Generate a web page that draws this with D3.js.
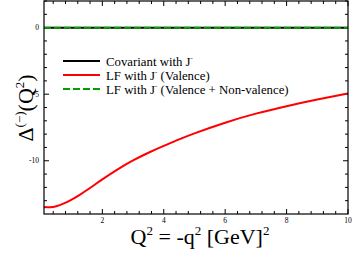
<!DOCTYPE html>
<html>
<head>
<meta charset="utf-8">
<script src="https://cdn.jsdelivr.net/npm/d3@7"></script>
<style>
  body { margin: 0; background: #fff; }
</style>
</head>
<body>
<div id="chart"></div>
<script>
// values
const q2 = [0.1, 0.3, 0.5, 0.75, 1, 1.25, 1.5, 1.75, 2, 2.5, 3, 3.5, 4, 4.5, 5, 6, 7, 8, 9, 10];
const lfValence = [-13.48, -13.5, -13.42, -13.2, -12.92, -12.58, -12.2, -11.8, -11.4, -10.65, -9.98, -9.4, -8.88, -8.4, -7.94, -7.14, -6.46, -5.9, -5.4, -4.95];
const covariant = q2.map(() => 0);
const lfFull = q2.map(() => 0);
const xTicks = [2, 4, 6, 8, 10];
const yTicks = [0, -5, -10];

const W = 354, H = 255;
const margin = {top: 1, right: 6, bottom: 41, left: 44},
      width = W - margin.left - margin.right,
      height = H - margin.top - margin.bottom;

const svg = d3.select("#chart").append("svg")
    .attr("width", W).attr("height", H)
    .attr("font-family", "'Liberation Serif', 'DejaVu Serif', serif");
const g = svg.append("g").attr("transform", `translate(${margin.left},${margin.top})`);

const x = d3.scaleLinear().domain([0.1, 10]).range([0, width]);
const y = d3.scaleLinear().domain([-14, 2]).range([height, 0]);

// tick marks on all four sides, inward
const xMinor = d3.range(0.4, 10.01, 0.4).filter(v => !xTicks.some(t => Math.abs(t - v) < 1e-6));
const yMinor = d3.range(-13, 2.01, 1).filter(v => !yTicks.includes(v));

function ticksX(sel, y0, dir) {
  sel.selectAll(null).data(xTicks).enter().append("line")
    .attr("x1", d => x(d)).attr("x2", d => x(d))
    .attr("y1", y0).attr("y2", y0 + dir * 5).attr("stroke", "#000");
  sel.selectAll(null).data(xMinor).enter().append("line")
    .attr("x1", d => x(d)).attr("x2", d => x(d))
    .attr("y1", y0).attr("y2", y0 + dir * 3).attr("stroke", "#000");
}
function ticksY(sel, x0, dir) {
  sel.selectAll(null).data(yTicks).enter().append("line")
    .attr("y1", d => y(d)).attr("y2", d => y(d))
    .attr("x1", x0).attr("x2", x0 + dir * 5).attr("stroke", "#000");
  sel.selectAll(null).data(yMinor).enter().append("line")
    .attr("y1", d => y(d)).attr("y2", d => y(d))
    .attr("x1", x0).attr("x2", x0 + dir * 3).attr("stroke", "#000");
}
const tk = g.append("g");
ticksX(tk, height, -1);
ticksX(tk, 0, 1);
ticksY(tk, 0, 1);
ticksY(tk, width, -1);

// tick labels
g.selectAll(null).data(xTicks).enter().append("text")
  .attr("x", d => x(d)).attr("y", height + 9)
  .attr("text-anchor", "middle").attr("font-size", 7.5).text(d => d);
g.selectAll(null).data(yTicks).enter().append("text")
  .attr("x", -5).attr("y", d => y(d)).attr("dy", "0.35em")
  .attr("text-anchor", "end").attr("font-size", 7.5).text(d => d);

// lines
const line = d3.line().x((d, i) => x(q2[i])).y(d => y(d)).curve(d3.curveNatural);
g.append("path").datum(lfValence).attr("d", line)
  .attr("fill", "none").attr("stroke", "#ff0000").attr("stroke-width", 2);
g.append("path").datum(covariant).attr("d", line)
  .attr("fill", "none").attr("stroke", "#000").attr("stroke-width", 2);
g.append("path").datum(lfFull).attr("d", line)
  .attr("fill", "none").attr("stroke", "#00a000").attr("stroke-width", 2)
  .attr("stroke-dasharray", "7,3");

// frame
g.append("rect").attr("width", width).attr("height", height)
  .attr("fill", "none").attr("stroke", "#000").attr("stroke-width", 1.2);

// legend
const legend = [
  {label: "Covariant with J", extra: "", color: "#000", dash: null},
  {label: "LF with J", extra: " (Valence)", color: "#ff0000", dash: null},
  {label: "LF with J", extra: " (Valence + Non-valence)", color: "#00a000", dash: "7,3"}
];
const lg = svg.append("g").attr("transform", "translate(63,61)");
legend.forEach((d, i) => {
  const row = lg.append("g").attr("transform", `translate(0,${i * 14})`);
  row.append("line").attr("x1", 0).attr("x2", 37).attr("y1", 0).attr("y2", 0)
    .attr("stroke", d.color).attr("stroke-width", 2)
    .attr("stroke-dasharray", d.dash);
  const t = row.append("text").attr("x", 43).attr("y", 4.5).attr("font-size", 12.8);
  t.append("tspan").text(d.label);
  t.append("tspan").attr("dy", -6).attr("font-size", 7).text("-");
  t.append("tspan").attr("dy", 6).text(d.extra);
});

// axis titles
const xt = svg.append("text").attr("x", 200).attr("y", 244)
  .attr("text-anchor", "middle").attr("font-size", 22);
xt.append("tspan").text("Q");
xt.append("tspan").attr("dy", -9).attr("font-size", 13).text("2");
xt.append("tspan").attr("dy", 9).text(" = -q");
xt.append("tspan").attr("dy", -9).attr("font-size", 13).text("2");
xt.append("tspan").attr("dy", 9).text(" [GeV]");
xt.append("tspan").attr("dy", -9).attr("font-size", 13).text("2");

const yt = svg.append("text")
  .attr("transform", "translate(33,108) rotate(-90)")
  .attr("text-anchor", "middle").attr("font-size", 22);
yt.append("tspan").text("Δ");
yt.append("tspan").attr("dy", -9).attr("font-size", 13).text("(−)");
yt.append("tspan").attr("dy", 9).text("(Q");
yt.append("tspan").attr("dy", -9).attr("font-size", 13).text("2");
yt.append("tspan").attr("dy", 9).text(")");
</script>
</body>
</html>
